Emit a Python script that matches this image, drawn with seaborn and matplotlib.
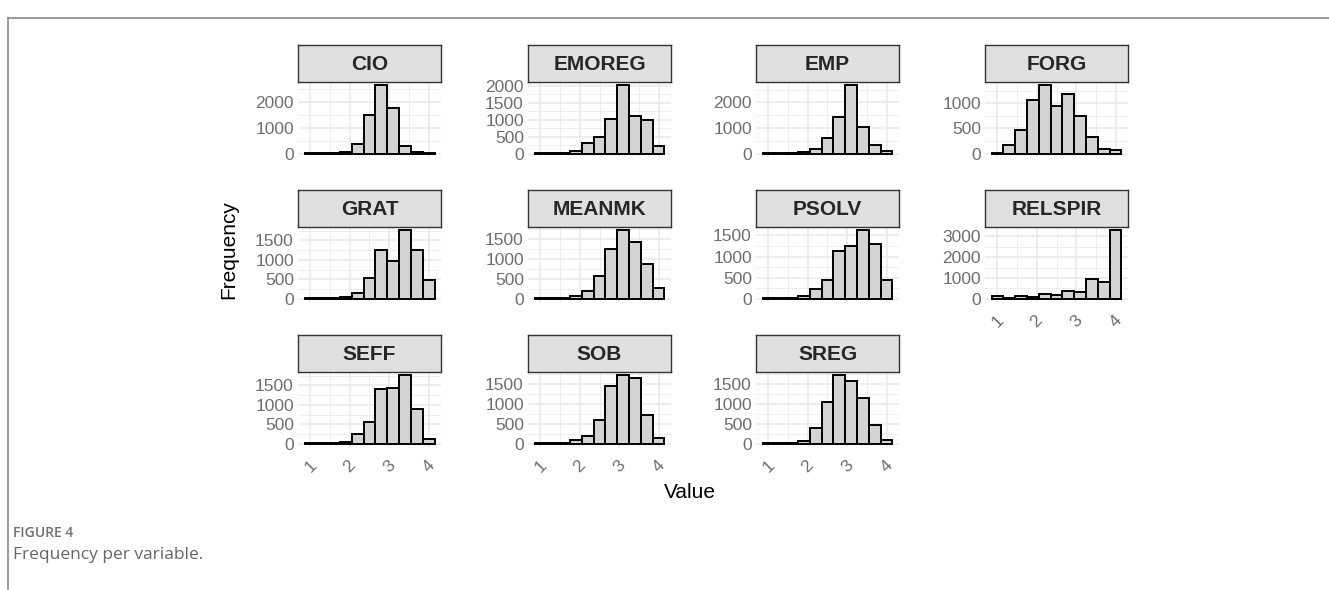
import numpy as np
import pandas as pd
import matplotlib
matplotlib.use("Agg")
import matplotlib.pyplot as plt
from matplotlib.ticker import MultipleLocator
from matplotlib.lines import Line2D
import seaborn as sns

plt.rcParams["font.family"] = ["Liberation Sans", "DejaVu Sans"]

# Histogram bins: 11 bins of width 0.3 centred on 1.0 ... 4.0
bin_centers = [1.0, 1.3, 1.6, 1.9, 2.2, 2.5, 2.8, 3.1, 3.4, 3.7, 4.0]

variables = ["CIO", "EMOREG", "EMP", "FORG", "GRAT", "MEANMK",
             "PSOLV", "RELSPIR", "SEFF", "SOB", "SREG"]

cio = [5, 10, 15, 60, 360, 1490, 2640, 1760, 295, 60, 15]
emoreg = [5, 10, 30, 70, 300, 490, 1020, 2010, 1100, 1000, 220]
emp = [5, 10, 30, 70, 190, 590, 1420, 2660, 1030, 350, 100]
forg = [15, 180, 470, 1070, 1355, 955, 1185, 755, 330, 100, 65]
grat = [5, 5, 15, 50, 145, 520, 1250, 975, 1760, 1250, 480]
meanmk = [5, 10, 25, 60, 190, 560, 1260, 1720, 1425, 880, 270]
psolv = [5, 10, 25, 55, 220, 450, 1130, 1240, 1620, 1300, 430]
relspir = [130, 50, 110, 60, 240, 160, 370, 340, 960, 800, 3290]
seff = [5, 5, 15, 35, 240, 550, 1420, 1430, 1760, 905, 110]
sob = [5, 10, 25, 90, 190, 600, 1460, 1715, 1650, 725, 140]
sreg = [5, 5, 20, 60, 390, 1050, 1720, 1575, 1150, 460, 95]

counts = [cio, emoreg, emp, forg, grat, meanmk, psolv, relspir, seff, sob, sreg]
y_steps = [1000, 500, 1000, 500, 500, 500, 500, 1000, 500, 500, 500]
x_ticks = [1, 2, 3, 4]

W, H = 1329, 590
fig = plt.figure(figsize=(W / 100, H / 100), dpi=100)
fig.patch.set_facecolor("white")

col_left = [298, 528, 756, 985]
row_top = [45, 190, 335]
panel_w = 143
strip_h = 37
panel_h = 75

width = 0.3
edges = [round(c - width / 2, 3) for c in bin_centers] + [round(bin_centers[-1] + width / 2, 3)]
xlo, xhi = edges[0], edges[-1]
pad = 0.05 * (xhi - xlo)

grid_c = "#ebebeb"
tick_c = "#6e6e6e"

for i, (name, vals) in enumerate(zip(variables, counts)):
    r, c = divmod(i, 4)
    x0 = col_left[c]
    top = row_top[r]
    ax = fig.add_axes([x0 / W, 1 - (top + strip_h + panel_h) / H, panel_w / W, panel_h / H])
    df = pd.DataFrame({"value": bin_centers, "n": vals})
    sns.histplot(data=df, x="value", weights="n", bins=edges, ax=ax,
                 color="#d3d3d3", edgecolor="black", linewidth=1.4, alpha=1)
    m = max(vals)
    ax.set_xlim(xlo - pad, xhi + pad)
    ax.set_ylim(-0.05 * m, 1.05 * m)
    step = y_steps[i]
    ax.yaxis.set_major_locator(MultipleLocator(step))
    ax.yaxis.set_minor_locator(MultipleLocator(step / 2))
    ax.xaxis.set_major_locator(MultipleLocator(1))
    ax.xaxis.set_minor_locator(MultipleLocator(0.5))
    ax.set_xticks(x_ticks)
    ax.grid(True, which="major", color=grid_c, linewidth=1.2)
    ax.grid(True, which="minor", color=grid_c, linewidth=0.6)
    ax.set_axisbelow(True)
    for s in ax.spines.values():
        s.set_visible(False)
    ax.set_xlabel("")
    ax.set_ylabel("")
    ax.tick_params(axis="both", which="both", length=0)
    ax.tick_params(axis="y", labelsize=12.5, labelcolor=tick_c, pad=3)
    show_x = (r == 2) or (name == "RELSPIR")
    if show_x:
        ax.tick_params(axis="x", labelsize=12.5, labelcolor=tick_c, pad=8)
        for lab in ax.get_xticklabels():
            lab.set_rotation(45)
            lab.set_ha("center")
    else:
        ax.set_xticklabels([])
    # strip with the variable name
    sax = fig.add_axes([x0 / W, 1 - (top + strip_h) / H, panel_w / W, strip_h / H])
    sax.set_facecolor("#e0e0e0")
    sax.set_xticks([])
    sax.set_yticks([])
    for s in sax.spines.values():
        s.set_color("#333333")
        s.set_linewidth(1.0)
    sax.text(0.5, 0.47, name, ha="center", va="center", fontsize=15,
             fontweight="bold", color="#262626", transform=sax.transAxes)

fig.text(229 / W, 1 - 250 / H, "Frequency", rotation=90, ha="center", va="center",
         fontsize=15, color="black")
fig.text(690 / W, 1 - 493 / H, "Value", ha="center", va="center",
         fontsize=15, color="black")

# page frame and caption
frame_c = "#8a8a8a"
fig.add_artist(Line2D([8 / W, 1], [1 - 18 / H, 1 - 18 / H], transform=fig.transFigure,
                      color=frame_c, linewidth=1.2))
fig.add_artist(Line2D([8 / W, 8 / W], [0, 1 - 18 / H], transform=fig.transFigure,
                      color=frame_c, linewidth=1.2))
fig.text(13 / W, 1 - 533 / H, "FIGURE 4", ha="left", va="center", fontsize=10,
         fontweight="semibold", family=["Open Sans", "DejaVu Sans"], color="#707070")
fig.text(13 / W, 1 - 555 / H, "Frequency per variable.", ha="left", va="center",
         fontsize=12.5, family=["Open Sans", "DejaVu Sans"], color="#666666")

fig.savefig("out.png", dpi=100, facecolor="white")
